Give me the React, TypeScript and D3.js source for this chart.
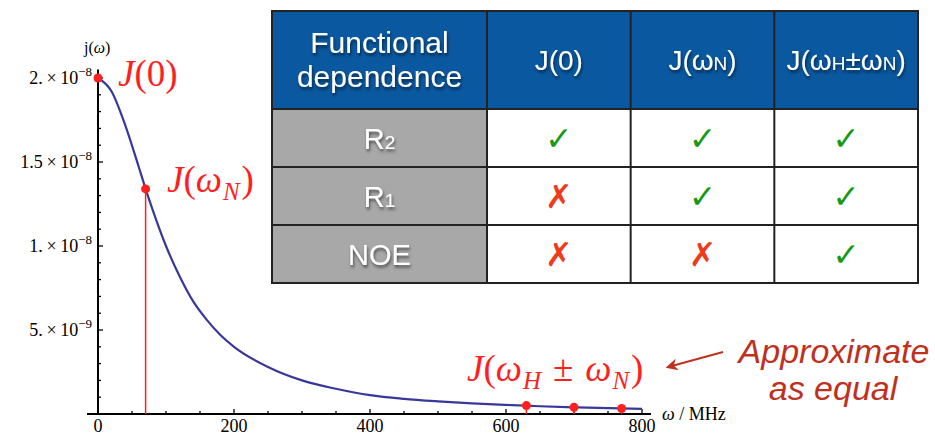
import React from "react";
import * as d3 from "d3";

// spectral density curve (j in units of 1e-9)
const omegaValues = [0, 20, 40, 60, 70, 80, 100, 120, 140, 160, 180, 200, 250, 300, 350, 400, 450, 500, 550, 600, 650, 700, 750, 800];
const jValues = [20.0, 19.2, 17.2, 14.7, 13.4, 12.2, 10.0, 8.2, 6.7, 5.6, 4.7, 4.0, 2.8, 2.0, 1.5, 1.12, 0.9, 0.75, 0.63, 0.54, 0.46, 0.4, 0.35, 0.31];

// highlighted frequencies: 0, wN, wH-wN, wH, wH+wN
const markOmega = [0, 70, 630, 700, 770];
const markJ = [20.0, 13.4, 0.5, 0.4, 0.33];

const yTicks = [5, 10, 15, 20];
const yTickMantissa = ["5.", "1.", "1.5", "2."];
const yTickExponent = ["\u22129", "\u22128", "\u22128", "\u22128"];
const yMinorTicks = d3.range(1, 21);
const xTicks = [0, 200, 400, 600, 800];
const xMinorTicks = d3.range(0, 801, 50);

// table
const rowLabels = [["R", "2"], ["R", "1"], ["NOE", ""]];
const columnKeys = ["J0", "JN", "JHN"];
const dependence = [
  [true, true, true],
  [false, true, true],
  [false, false, true],
];

const serif = "'Liberation Serif', 'DejaVu Serif', serif";
const sans = "'Liberation Sans', Arial, sans-serif";
const red = "#ff1f1f";
const darkRed = "#c0301f";

const App = () => {
  const x = d3.scaleLinear().domain([0, 800]).range([98, 642]);
  const y = d3.scaleLinear().domain([0, 20]).range([414, 78]);

  const line = d3
    .line<number>()
    .x((d, i) => x(omegaValues[i]))
    .y((d) => y(d))
    .curve(d3.curveMonotoneX);

  // table layout
  const tLeft = 272;
  const tFirst = 487;
  const tRight = 918;
  const tTop = 11;
  const tHead = 109;
  const tBottom = 283;
  const col = d3.scaleBand().domain(columnKeys).range([tFirst, tRight]);
  const row = d3.scaleBand().domain(rowLabels.map((r) => r[0] + r[1])).range([tHead, tBottom]);
  const headMid = (tTop + tHead) / 2;

  const subStyle = { fontSize: 19 };

  return (
    <svg width={935} height={435} style={{ display: "block", background: "#fff" }}>
      <style>{"body{margin:0}"}</style>
      <defs>
        <filter id="shadow" x="-20%" y="-20%" width="140%" height="160%">
          <feDropShadow dx="1" dy="2.5" stdDeviation="1.5" floodColor="#000" floodOpacity="0.55" />
        </filter>
        <marker id="arrow" viewBox="0 0 10 10" refX="8" refY="5" markerWidth="6" markerHeight="6" orient="auto-start-reverse">
          <path d="M0,0 L10,5 L0,10 L3,5 z" fill={darkRed} />
        </marker>
      </defs>

      {/* axes */}
      <line x1={87} x2={651} y1={y(0)} y2={y(0)} stroke="#000" strokeWidth={2} />
      <line x1={x(0)} x2={x(0)} y1={y(20.5)} y2={y(0)} stroke="#000" strokeWidth={2} />
      {yMinorTicks.map((t) => (
        <line key={"ym" + t} x1={x(0)} x2={x(0) + (t % 5 === 0 ? 5 : 3)} y1={y(t)} y2={y(t)} stroke="#000" strokeWidth={1.3} />
      ))}
      {xMinorTicks.map((t) => (
        <line key={"xm" + t} x1={x(t)} x2={x(t)} y1={y(0)} y2={y(0) - (t % 200 === 0 ? 5 : 3)} stroke="#000" strokeWidth={1.3} />
      ))}
      {yTicks.map((t, i) => (
        <text key={"yl" + t} x={92} y={y(t) + 6} textAnchor="end" fontFamily={serif} fontSize={18}>
          {yTickMantissa[i] + "\u2009\u00d7\u200910"}
          <tspan fontSize={13} dy={-8}>{yTickExponent[i]}</tspan>
        </text>
      ))}
      {xTicks.map((t) => (
        <text key={"xl" + t} x={x(t)} y={432} textAnchor="middle" fontFamily={serif} fontSize={18}>
          {t}
        </text>
      ))}
      <text x={84} y={53} fontFamily={serif} fontSize={16}>
        j(<tspan fontStyle="italic">ω</tspan>)
      </text>
      <text x={662} y={420} fontFamily={serif} fontSize={18}>
        <tspan fontStyle="italic">ω</tspan> / MHz
      </text>

      {/* curve */}
      <path d={line(jValues) || ""} fill="none" stroke="#38389a" strokeWidth={2.2} />

      {/* highlighted points */}
      {markOmega.slice(1).map((w, i) => (
        <line key={"ml" + w} x1={x(w)} x2={x(w)} y1={y(0)} y2={y(markJ[i + 1])} stroke={red} strokeWidth={1.5} />
      ))}
      {markOmega.map((w, i) => (
        <circle key={"mc" + w} cx={x(w)} cy={y(markJ[i])} r={4.5} fill={red} />
      ))}

      {/* math labels */}
      <text x={118} y={86} fontFamily={serif} fontSize={37} fill={red}>
        <tspan fontStyle="italic">J</tspan>(0)
      </text>
      <text x={167} y={192} fontFamily={serif} fontSize={37} fill={red}>
        <tspan fontStyle="italic">J</tspan>(<tspan fontStyle="italic">ω</tspan>
        <tspan fontStyle="italic" fontSize={25} dy={8} dx={1}>N</tspan>
        <tspan dy={-8} dx={2}>)</tspan>
      </text>
      <text x={467} y={381} fontFamily={serif} fontSize={37} fill={red}>
        <tspan fontStyle="italic">J</tspan>(<tspan fontStyle="italic">ω</tspan>
        <tspan fontStyle="italic" fontSize={25} dy={8} dx={1}>H</tspan>
        <tspan dy={-8} dx={12}>±</tspan>
        <tspan fontStyle="italic" dx={12}>ω</tspan>
        <tspan fontStyle="italic" fontSize={25} dy={8} dx={1}>N</tspan>
        <tspan dy={-8} dx={2}>)</tspan>
      </text>

      {/* annotation */}
      <line x1={723} y1={352} x2={668} y2={367} stroke={darkRed} strokeWidth={2} markerEnd="url(#arrow)" />
      <text x={834} y={363} textAnchor="middle" fontFamily={sans} fontStyle="italic" fontSize={34} fill={darkRed}>
        Approximate
      </text>
      <text x={833} y={400} textAnchor="middle" fontFamily={sans} fontStyle="italic" fontSize={34} fill={darkRed}>
        as equal
      </text>

      {/* table */}
      <rect x={tLeft} y={tTop} width={tRight - tLeft} height={tHead - tTop} fill="#0a58a0" />
      <rect x={tLeft} y={tHead} width={tFirst - tLeft} height={tBottom - tHead} fill="#a8a8a8" />
      <rect x={tFirst} y={tHead} width={tRight - tFirst} height={tBottom - tHead} fill="#fff" />
      <g fill="#fff" fontFamily={sans} filter="url(#shadow)">
        <text x={(tLeft + tFirst) / 2} y={53} textAnchor="middle" fontSize={30}>Functional</text>
        <text x={(tLeft + tFirst) / 2} y={87} textAnchor="middle" fontSize={30}>dependence</text>
        <text x={col("J0")! + col.bandwidth() / 2} y={headMid + 10} textAnchor="middle" fontSize={28}>J(0)</text>
        <text x={col("JN")! + col.bandwidth() / 2} y={headMid + 10} textAnchor="middle" fontSize={28}>
          J(ω<tspan style={subStyle}>N</tspan>)
        </text>
        <text x={col("JHN")! + col.bandwidth() / 2} y={headMid + 10} textAnchor="middle" fontSize={28}>
          J(ω<tspan style={subStyle}>H</tspan>±ω<tspan style={subStyle}>N</tspan>)
        </text>
        {rowLabels.map((r) => (
          <text key={r[0] + r[1]} x={(tLeft + tFirst) / 2} y={row(r[0] + r[1])! + row.bandwidth() / 2 + 11} textAnchor="middle" fontSize={29}>
            {r[0]}
            {r[1] && <tspan fontSize={19}>{r[1]}</tspan>}
          </text>
        ))}
      </g>
      {rowLabels.map((r, i) =>
        columnKeys.map((c, j) => (
          <text
            key={r[0] + r[1] + c}
            x={col(c)! + col.bandwidth() / 2}
            y={row(r[0] + r[1])! + row.bandwidth() / 2 + 12}
            textAnchor="middle"
            fontFamily="'DejaVu Sans', sans-serif"
            fontWeight="bold"
            fontSize={33}
            fill={dependence[i][j] ? "#169a16" : "#f03a1c"}
          >
            {dependence[i][j] ? "\u2713" : "\u2717"}
          </text>
        ))
      )}
      <g stroke="#222" strokeWidth={2} fill="none">
        <rect x={tLeft} y={tTop} width={tRight - tLeft} height={tBottom - tTop} />
        <line x1={tLeft} x2={tRight} y1={tHead} y2={tHead} />
        {rowLabels.slice(1).map((r) => (
          <line key={"rl" + r[0]} x1={tLeft} x2={tRight} y1={row(r[0] + r[1])} y2={row(r[0] + r[1])} />
        ))}
        {columnKeys.map((c) => (
          <line key={"cl" + c} x1={col(c)} x2={col(c)} y1={tTop} y2={tBottom} />
        ))}
      </g>
    </svg>
  );
};

export default App;
